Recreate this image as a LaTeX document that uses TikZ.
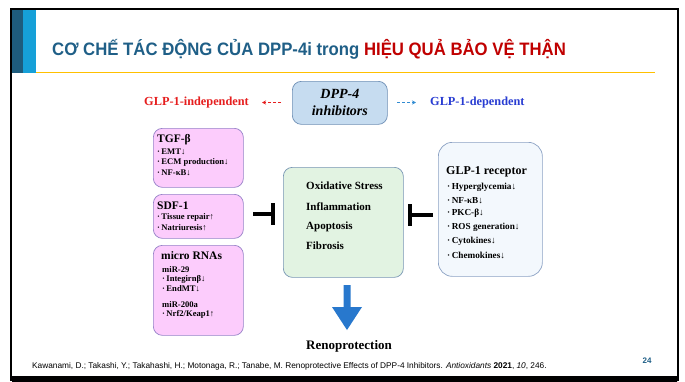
\documentclass[tikz,border=0pt]{standalone}
\usepackage{fontspec}
\setmainfont{Liberation Serif}
\newfontfamily\arialf{Liberation Sans}
\usetikzlibrary{arrows.meta,calc,shapes.arrows}
\definecolor{titleblue}{RGB}{31,95,135}
\definecolor{titlered}{RGB}{192,0,0}
\definecolor{goldline}{RGB}{255,192,0}
\definecolor{bardark}{RGB}{30,92,125}
\definecolor{barlight}{RGB}{22,160,216}
\definecolor{indred}{RGB}{230,30,30}
\definecolor{depblue}{RGB}{40,60,210}
\definecolor{dashblue}{RGB}{50,140,210}
\definecolor{dppfill}{RGB}{198,220,240}
\definecolor{dppdraw}{RGB}{110,143,181}
\definecolor{pinkfill}{RGB}{252,204,252}
\definecolor{pinkdraw}{RGB}{150,130,200}
\definecolor{greenfill}{RGB}{226,243,226}
\definecolor{greendraw}{RGB}{120,150,180}
\definecolor{glpfill}{RGB}{243,248,253}
\definecolor{glpdraw}{RGB}{140,162,196}
\definecolor{arrowblue}{RGB}{40,120,205}
\tikzset{
  box/.style={draw, rounded corners=9pt, line width=0.7pt, inner sep=0pt, anchor=north west},
  pinkbox/.style={box, fill=pinkfill, draw=pinkdraw},
  hd/.style={font=\fontsize{11.5}{13}\selectfont\bfseries, anchor=west, inner sep=0pt},
  itm/.style={font=\fontsize{8.6}{10}\selectfont\bfseries, anchor=west, inner sep=0pt},
  ritm/.style={font=\fontsize{9.2}{10}\selectfont\bfseries, anchor=west, inner sep=0pt},
  big/.style={font=\fontsize{11}{13}\selectfont\bfseries, anchor=west, inner sep=0pt},
  inh/.style={line width=3.6pt, black},
}
\begin{document}
\begin{tikzpicture}[x=1pt,y=-1pt]
\useasboundingbox (0,0) rectangle (685,381);
\fill[white] (0,0) rectangle (685,381);
% frame
\draw[line width=1.6pt, black] (11,381) -- (11,9) -- (678,9) -- (678,381);
% left accent bars
\fill[bardark] (12,10) rectangle (23,73);
\fill[barlight] (23,10) rectangle (36,73);
% title
\node[anchor=west, inner sep=0pt, font=\arialf\bfseries\fontsize{18}{20}\selectfont] (title) at (52,49)
  {\scalebox{0.93}[1]{\textcolor{titleblue}{CƠ CHẾ TÁC ĐỘNG CỦA DPP-4i trong} \textcolor{titlered}{HIỆU QUẢ BẢO VỆ THẬN}}};
\draw[goldline, line width=1pt] (36,72.5) -- (655,72.5);
% gradient bottom bar
\shade[left color={RGB:red,25;green,90;blue,190}, right color={RGB:red,60;green,175;blue,150}] (12,376) rectangle (60,381);
\shade[left color={RGB:red,60;green,175;blue,150}, right color={RGB:red,240;green,240;blue,20}] (60,376) rectangle (150,381);
\shade[left color={RGB:red,240;green,240;blue,20}, right color={RGB:red,60;green,190;blue,70}] (150,376) rectangle (270,381);
\shade[left color={RGB:red,60;green,190;blue,70}, right color={RGB:red,170;green,190;blue,40}] (270,376) rectangle (400,381);
\shade[left color={RGB:red,170;green,190;blue,40}, right color={RGB:red,250;green,190;blue,30}] (400,376) rectangle (490,381);
\shade[left color={RGB:red,250;green,190;blue,30}, right color={RGB:red,70;green,180;blue,160}] (490,376) rectangle (560,381);
\shade[left color={RGB:red,70;green,180;blue,160}, right color={RGB:red,20;green,170;blue,235}] (560,376) rectangle (677,381);

% DPP-4 box
\node[box, fill=dppfill, draw=dppdraw, minimum width=95pt, minimum height=43pt] (dpp) at (292,81) {};
\node[font=\fontsize{14}{16}\selectfont\bfseries\itshape, align=center, inner sep=0pt] (dpptxt) at (dpp.center) {DPP-4\\[1pt]inhibitors};
\node[font=\fontsize{12.3}{14}\selectfont\bfseries, text=indred, anchor=east, inner sep=0pt] (indep) at (249,102.5) {GLP-1-independent};
\node[font=\fontsize{12.3}{14}\selectfont\bfseries, text=depblue, anchor=west, inner sep=0pt] (dep) at (430,103) {GLP-1-dependent};
\coordinate (la) at (281,102.5);
\coordinate (lb) at (262,102.5);
\coordinate (ra) at (397,102.5);
\coordinate (rb) at (416,102.5);
\draw[indred, dashed, dash pattern=on 3pt off 2pt, line width=1pt, -{Stealth[length=4pt,width=4pt]}] (la) -- (lb);
\draw[dashblue, dashed, dash pattern=on 3pt off 2pt, line width=1pt, -{Stealth[length=4pt,width=4pt]}] (ra) -- (rb);

% TGF-beta box
\node[pinkbox, minimum width=90pt, minimum height=59pt] (tgf) at (153,128) {};
\node[hd] (tgfh) at (157,140) {TGF-β};
\node[itm] (t1) at (157,151.5) {·\,EMT↓};
\node[itm] (t2) at (157,162) {·\,ECM production↓};
\node[itm] (t3) at (157,172.5) {·\,NF-κB↓};
% SDF-1 box
\node[pinkbox, minimum width=90pt, minimum height=44pt] (sdf) at (153,194) {};
\node[hd] (sdfh) at (157,206) {SDF-1};
\node[itm] (s1) at (157,217.5) {·\,Tissue repair↑};
\node[itm] (s2) at (157,228) {·\,Natriuresis↑};
% micro RNA box
\node[pinkbox, minimum width=90pt, minimum height=90pt] (mir) at (153,245) {};
\node[hd] (mirh) at (161,256) {micro RNAs};
\node[itm] (m0) at (162,270) {miR-29};
\node[itm] (m1) at (162,279.5) {·\,Integirnβ↓};
\node[itm] (m2) at (162,289) {·\,EndMT↓};
\node[itm] (m3) at (162,304.5) {miR-200a};
\node[itm] (m4) at (162,314) {·\,Nrf2/Keap1↑};

% green box
\node[box, fill=greenfill, draw=greendraw, minimum width=120pt, minimum height=110pt] (grn) at (283,167) {};
\node[big] (g1) at (306,186) {Oxidative Stress};
\node[big] (g2) at (306,206.5) {Inflammation};
\node[big] (g3) at (306,226.5) {Apoptosis};
\node[big] (g4) at (306,246) {Fibrosis};

% GLP-1 receptor box
\node[box, fill=glpfill, draw=glpdraw, minimum width=104pt, minimum height=134pt, rounded corners=14pt] (glp) at (438,142) {};
\node[hd, font=\fontsize{12}{14}\selectfont\bfseries] (glph) at (446,172) {GLP-1 receptor};
\node[ritm] (r1) at (447,187) {·\,Hyperglycemia↓};
\node[ritm] (r2) at (447,200.5) {·\,NF-κB↓};
\node[ritm] (r3) at (447,213.5) {·\,PKC-β↓};
\node[ritm] (r4) at (447,227.5) {·\,ROS generation↓};
\node[ritm] (r5) at (447,241) {·\,Cytokines↓};
\node[ritm] (r6) at (447,255) {·\,Chemokines↓};

% inhibition symbols
\coordinate (lin) at (253,214);
\coordinate (lbar) at (273,214);
\draw[inh] (lin) -- (lbar);
\draw[inh] ($(lbar)+(0,-11)$) -- ($(lbar)+(0,11)$);
\coordinate (rin) at (433,215);
\coordinate (rbar) at (410,215);
\draw[inh] (rin) -- (rbar);
\draw[inh] ($(rbar)+(0,-11)$) -- ($(rbar)+(0,11)$);

% down arrow
\coordinate (dtop) at (347,285);
\coordinate (dtip) at (347,330);
\fill[arrowblue] (343.5,285) -- (350.5,285) -- (350.5,307) -- (362,307) -- (dtip) -- (332,307) -- (343.5,307) -- cycle;
\node[font=\fontsize{13}{15}\selectfont\bfseries, inner sep=0pt] (reno) at (349,346) {Renoprotection};

% footnote
\node[anchor=west, inner sep=0pt, font=\arialf\fontsize{8.3}{10}\selectfont] (ref) at (32,366)
 {Kawanami, D.; Takashi, Y.; Takahashi, H.; Motonaga, R.; Tanabe, M. Renoprotective Effects of DPP-4 Inhibitors. \textit{Antioxidants} \textbf{2021}, \textit{10}, 246.};
\node[inner sep=0pt, font=\arialf\bfseries\fontsize{8}{9}\selectfont, text=titleblue] (pg) at (647,361) {24};
\end{tikzpicture}
\end{document}
